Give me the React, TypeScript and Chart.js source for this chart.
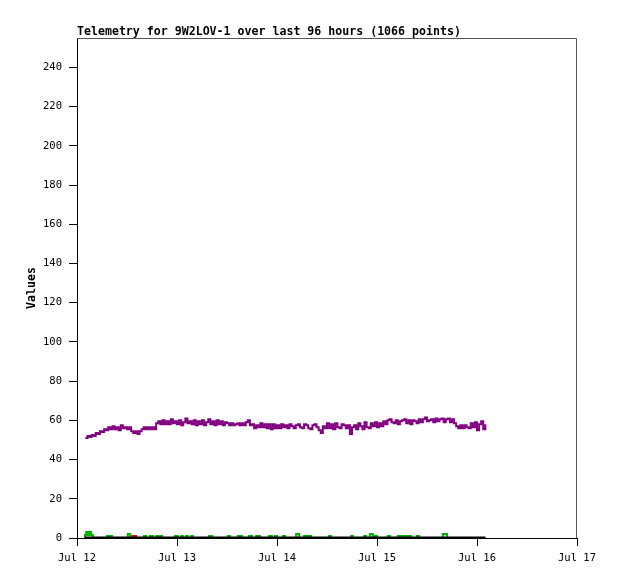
import { useEffect, useRef } from 'react';
import { Chart, registerables, Plugin } from 'chart.js';

Chart.register(...registerables);

// hours are counted from Jul 12 00:00
const TITLE = 'Telemetry for 9W2LOV-1 over last 96 hours (1066 points)';
const Y_LABEL = 'Values';
const DAY_LABELS = ['Jul 12', 'Jul 13', 'Jul 14', 'Jul 15', 'Jul 16', 'Jul 17'];
const FIRST_HOUR = 1.9;
const LAST_HOUR = 98;

// purple channel, one sample every half hour from hour 2
const PURPLE_START = 2;
const PURPLE_STEP = 0.5;
const purpleValues = [
  51, 52, 51.5, 52.5, 52, 53.5, 53, 54.5, 54, 55.5, 55, 56.5, 55.5, 57, 55.5, 56.5,
  55, 57.5, 56, 56.5, 55.5, 56.5, 54.5, 53.5, 54.5, 53, 54.5, 55.5, 56.5, 55.5, 56.5, 55.5,
  56.5, 55.5, 58.5, 59.5, 58, 60, 58, 59.5, 58, 60.5, 58.5, 59.5, 58, 60, 57.5, 59,
  61, 58.5, 59.5, 58, 60, 57.5, 59.5, 58, 60, 57.5, 59, 60.5, 58, 59.5, 57.5, 60,
  58, 59.5, 57.5, 59, 58.5, 57.5, 58.5, 57.5, 58, 58.5, 57.5, 58.5, 57.5, 59, 60, 57.5,
  58, 56, 57.5, 56.5, 58.5, 56.5, 58, 56, 58, 55.5, 58, 56, 57.5, 56, 58, 56.5,
  57.5, 56, 58, 57, 56, 57.5, 58, 56.5, 56, 58, 57.5, 56, 55.5, 57.5, 58, 56.5,
  55, 53.5, 57, 56, 58.5, 56, 58, 55.5, 58.5, 56.5, 56, 58, 57.5, 56, 57.5, 53,
  56.5, 57.5, 55.5, 58.5, 57, 55.5, 59, 56.5, 56, 58.5, 57, 59, 56.5, 58.5, 57, 59.5,
  58, 60, 60.5, 59, 58.5, 60, 58, 59.5, 60, 60.5, 58.5, 60, 58, 60, 59.5, 58.5,
  60.5, 59, 60.5, 61.5, 59.5, 60, 60.5, 59, 61, 59.5, 60.5, 61, 59, 60.5, 61, 59,
  60.5, 58.5, 57, 56, 57.5, 56, 57.5, 56.5, 56, 58.5, 56.5, 59, 55, 58, 59.5, 55.5,
  58,
];

// green channel: zero except for short blips
const greenStart = [
  1.9, 2.2, 2.6, 3.0, 3.4, 7.2, 7.9, 12.2, 12.8, 16.1, 17.5, 19.0, 19.9, 23.5,
  25.0, 26.2, 27.4, 31.7, 36.2, 38.6, 41.3, 43.0, 46.1, 47.5, 49.4, 52.6, 54.5,
  55.7, 60.5, 65.8, 68.9, 70.3, 71.5, 74.6, 77.0, 78.2, 79.4, 81.6, 87.8,
];
const greenEnd = [
  2.2, 2.6, 3.0, 3.4, 3.8, 7.7, 8.4, 12.8, 13.2, 16.6, 18.2, 19.4, 20.4, 24.2,
  25.4, 26.6, 27.8, 32.4, 36.7, 39.6, 42.0, 43.9, 46.8, 48.0, 49.9, 53.3, 55.4,
  56.2, 61.0, 66.2, 69.4, 71.0, 72.0, 75.1, 78.0, 79.0, 80.2, 82.1, 88.8,
];
const greenLevel = [
  1.5, 3, 1.5, 3, 1.5, 1, 1, 2, 1, 1, 1, 1, 1, 1,
  1, 1, 1, 1, 1, 1, 1, 1, 1, 1, 1, 2, 1,
  1, 1, 1, 1, 2, 1, 1, 1, 1, 1, 1, 2,
];

// red channel
const redStart = [13.4];
const redEnd = [14.2];
const redLevel = [1];

function blipSeries(starts: number[], ends: number[], levels: number[]) {
  const pts = [{ x: FIRST_HOUR, y: 0 }];
  starts.forEach((s, i) => {
    pts.push({ x: s, y: levels[i] });
    if (starts[i + 1] !== ends[i]) pts.push({ x: ends[i], y: 0 });
  });
  pts.push({ x: LAST_HOUR, y: 0 });
  return pts;
}

const framePlugin: Plugin<'line'> = {
  id: 'frame',
  afterDraw(chart) {
    const { ctx, chartArea: a } = chart;
    ctx.save();
    ctx.strokeStyle = '#555';
    ctx.lineWidth = 1;
    ctx.beginPath();
    ctx.moveTo(a.left, a.top + 0.5);
    ctx.lineTo(a.right - 0.5, a.top + 0.5);
    ctx.lineTo(a.right - 0.5, a.bottom);
    ctx.stroke();

    ctx.fillStyle = '#000';
    ctx.font = 'bold 11.6px "DejaVu Sans Mono", monospace';
    ctx.textAlign = 'left';
    ctx.textBaseline = 'alphabetic';
    ctx.fillText(TITLE, a.left, a.top - 3);

    ctx.translate(31.5, (a.top + a.bottom) / 2);
    ctx.rotate(-Math.PI / 2);
    ctx.textAlign = 'center';
    ctx.textBaseline = 'middle';
    ctx.fillText(Y_LABEL, 0, 0);
    ctx.restore();
  },
};

export default function App() {
  const canvasRef = useRef<HTMLCanvasElement>(null);

  useEffect(() => {
    if (!canvasRef.current) return;
    const tickFont = { family: '"DejaVu Sans Mono", monospace', size: 10.5 };

    const chart = new Chart(canvasRef.current, {
      type: 'line',
      data: {
        datasets: [
          {
            label: 'black',
            data: [{ x: FIRST_HOUR, y: 0 }, { x: LAST_HOUR, y: 0 }],
            borderColor: '#000',
            borderWidth: 3,
          },
          {
            label: 'purple',
            data: purpleValues.map((v, i) => ({ x: PURPLE_START + i * PURPLE_STEP, y: v })),
            borderColor: '#800080',
            borderWidth: 2,
            stepped: true,
          },
          {
            label: 'red',
            data: blipSeries(redStart, redEnd, redLevel),
            borderColor: '#ff0000',
            borderWidth: 2,
            stepped: true,
          },
          {
            label: 'green',
            data: blipSeries(greenStart, greenEnd, greenLevel),
            borderColor: '#00b400',
            borderWidth: 2,
            stepped: true,
          },
        ],
      },
      options: {
        animation: false,
        responsive: true,
        maintainAspectRatio: false,
        parsing: false,
        normalized: true,
        elements: { point: { radius: 0 } },
        layout: { padding: { top: 38, right: 41, left: 0, bottom: 0 } },
        plugins: { legend: { display: false }, tooltip: { enabled: false } },
        scales: {
          x: {
            type: 'linear',
            min: 0,
            max: 120,
            afterFit: (s) => { s.height = 41; },
            border: { color: '#000' },
            grid: { drawOnChartArea: false, tickLength: 8, tickColor: '#000' },
            ticks: {
              stepSize: 24,
              autoSkip: false,
              maxRotation: 0,
              padding: 6,
              color: '#000',
              font: tickFont,
              callback: (v) => DAY_LABELS[Math.round(Number(v) / 24)],
            },
          },
          y: {
            min: 0,
            max: 255,
            afterFit: (s) => { s.width = 77; },
            border: { color: '#000' },
            grid: { drawOnChartArea: false, tickLength: 8, tickColor: '#000' },
            ticks: {
              stepSize: 20,
              includeBounds: false,
              padding: 7,
              color: '#000',
              font: tickFont,
            },
          },
        },
      },
      plugins: [framePlugin],
    });

    return () => chart.destroy();
  }, []);

  return (
    <div style={{ position: 'absolute', left: 0, top: 0, width: 618, height: 579, background: '#fff' }}>
      <canvas ref={canvasRef}></canvas>
    </div>
  );
}
